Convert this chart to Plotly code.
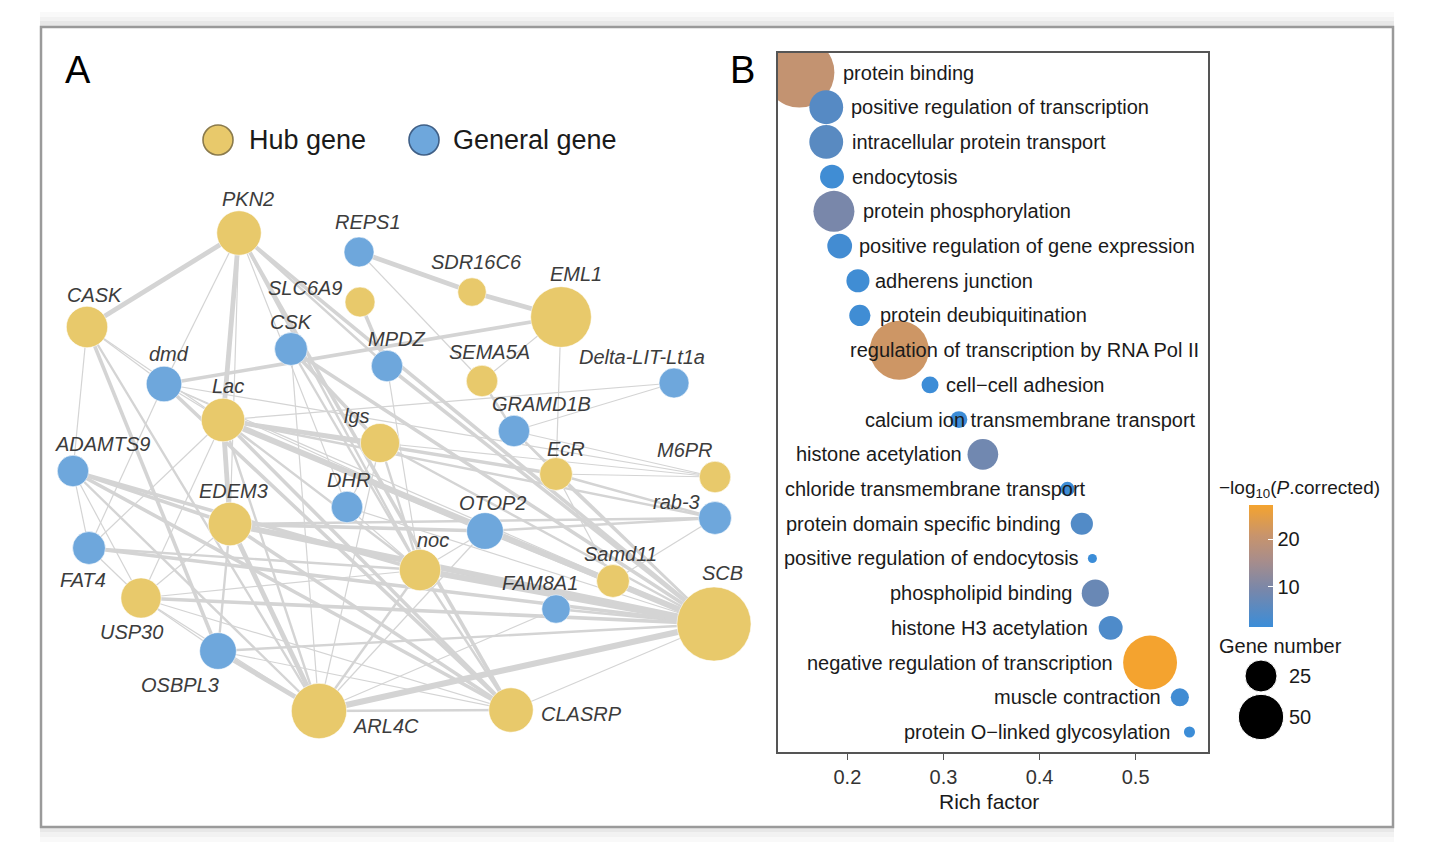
import plotly.graph_objects as go
from collections import defaultdict

W, H = 1432, 850
FONT = "Liberation Sans, Arial, sans-serif"

# ---------------- Panel A : co-expression network ----------------
node_names = ["PKN2", "REPS1", "SLC6A9", "SDR16C6", "EML1", "CASK", "CSK", "MPDZ", "dmd",
              "SEMA5A", "Delta-LIT-Lt1a", "Lac", "GRAMD1B", "lgs", "EcR", "M6PR", "ADAMTS9",
              "EDEM3", "DHR", "OTOP2", "rab-3", "FAT4", "noc", "Samd11", "USP30", "FAM8A1",
              "SCB", "OSBPL3", "ARL4C", "CLASRP"]
node_type = ["hub", "general", "hub", "hub", "hub", "hub", "general", "general", "general",
             "hub", "general", "hub", "general", "hub", "hub", "hub", "general",
             "hub", "general", "general", "general", "general", "hub", "hub", "hub", "general",
             "hub", "general", "hub", "hub"]
# network layout coordinates
node_x = [239, 359, 360, 472, 561, 87, 291, 387, 164, 482, 674, 223, 514, 380, 556, 715, 73,
          230, 347, 485, 715, 89, 420, 613, 141, 556, 714, 218, 319, 511]
node_y = [233, 252, 302, 292, 317, 327, 349, 366, 384, 381, 383, 420, 431, 443, 474, 477, 471,
          524, 507, 531, 518, 548, 570, 581, 598, 609, 624, 651, 711, 710]
node_degree = [22, 10, 10, 9, 41, 19, 12, 11, 14, 11, 10, 21, 11, 17, 12, 11, 11,
               21, 11, 15, 12, 12, 19, 12, 18, 9, 61, 15, 34, 22]

edges = [
    ("PKN2", "CASK", 4), ("PKN2", "Lac", 4), ("PKN2", "dmd", 1), ("PKN2", "SCB", 3),
    ("PKN2", "CLASRP", 3), ("PKN2", "noc", 2), ("PKN2", "EDEM3", 1), ("PKN2", "DHR", 1),
    ("PKN2", "MPDZ", 2),
    ("CASK", "dmd", 1), ("CASK", "Lac", 1), ("CASK", "ADAMTS9", 1), ("CASK", "OSBPL3", 3),
    ("CASK", "ARL4C", 2),
    ("dmd", "EML1", 3), ("dmd", "Lac", 1), ("dmd", "FAT4", 1), ("dmd", "CLASRP", 3),
    ("dmd", "SCB", 1), ("dmd", "OTOP2", 1), ("dmd", "M6PR", 1),
    ("CSK", "lgs", 3), ("CSK", "SCB", 3), ("CSK", "ARL4C", 1), ("CSK", "noc", 2),
    ("REPS1", "SDR16C6", 4), ("SDR16C6", "EML1", 4), ("REPS1", "SEMA5A", 1),
    ("SLC6A9", "MPDZ", 3),
    ("EML1", "SEMA5A", 1), ("EML1", "EcR", 1), ("MPDZ", "SCB", 3), ("MPDZ", "noc", 1),
    ("SEMA5A", "GRAMD1B", 2), ("Delta-LIT-Lt1a", "Lac", 1), ("Delta-LIT-Lt1a", "GRAMD1B", 1),
    ("GRAMD1B", "M6PR", 1), ("GRAMD1B", "SCB", 2), ("GRAMD1B", "EcR", 1),
    ("Lac", "lgs", 3), ("Lac", "EcR", 3), ("Lac", "SCB", 5), ("Lac", "OTOP2", 3),
    ("Lac", "EDEM3", 4), ("Lac", "ARL4C", 2), ("Lac", "CLASRP", 3), ("Lac", "rab-3", 2),
    ("Lac", "noc", 2), ("Lac", "FAT4", 1), ("Lac", "USP30", 1),
    ("lgs", "SCB", 2), ("lgs", "ARL4C", 1), ("lgs", "DHR", 1), ("lgs", "noc", 2),
    ("lgs", "M6PR", 1),
    ("EcR", "rab-3", 2), ("EcR", "SCB", 2), ("EcR", "M6PR", 1), ("EcR", "Samd11", 1),
    ("ADAMTS9", "EDEM3", 3), ("ADAMTS9", "noc", 3), ("ADAMTS9", "CLASRP", 3),
    ("ADAMTS9", "FAT4", 1), ("ADAMTS9", "ARL4C", 2), ("ADAMTS9", "USP30", 1),
    ("EDEM3", "SCB", 5), ("EDEM3", "OTOP2", 3), ("EDEM3", "ARL4C", 4), ("EDEM3", "CLASRP", 3),
    ("EDEM3", "OSBPL3", 2), ("EDEM3", "rab-3", 2), ("EDEM3", "USP30", 1),
    ("DHR", "SCB", 1), ("DHR", "noc", 1),
    ("OTOP2", "SCB", 3), ("OTOP2", "noc", 1), ("OTOP2", "rab-3", 2), ("OTOP2", "ARL4C", 1),
    ("rab-3", "Samd11", 1),
    ("FAT4", "SCB", 3), ("FAT4", "USP30", 1), ("FAT4", "noc", 2),
    ("noc", "SCB", 5), ("noc", "ARL4C", 2), ("noc", "CLASRP", 2), ("noc", "USP30", 1),
    ("Samd11", "SCB", 3), ("USP30", "SCB", 3), ("USP30", "ARL4C", 1), ("USP30", "OSBPL3", 1),
    ("USP30", "CLASRP", 1),
    ("FAM8A1", "SCB", 2), ("FAM8A1", "ARL4C", 1),
    ("OSBPL3", "ARL4C", 4), ("OSBPL3", "SCB", 2), ("OSBPL3", "CLASRP", 1),
    ("ARL4C", "SCB", 5), ("ARL4C", "CLASRP", 2), ("CLASRP", "SCB", 1),
]

# ---------------- Panel B : enrichment bubble chart ----------------
terms = ["protein binding", "positive regulation of transcription", "intracellular protein transport",
         "endocytosis", "protein phosphorylation", "positive regulation of gene expression",
         "adherens junction", "protein deubiquitination", "regulation of transcription by RNA Pol II",
         "cell\u2212cell adhesion", "calcium ion transmembrane transport", "histone acetylation",
         "chloride transmembrane transport", "protein domain specific binding",
         "positive regulation of endocytosis", "phospholipid binding", "histone H3 acetylation",
         "negative regulation of transcription", "muscle contraction",
         "protein O\u2212linked glycosylation"]
rich_factor = [0.150, 0.178, 0.178, 0.184, 0.186, 0.192, 0.211, 0.213, 0.254, 0.286,
               0.316, 0.341, 0.429, 0.444, 0.455, 0.458, 0.474, 0.515, 0.546, 0.556]
gene_number = [120, 28, 28, 14, 41, 15, 13, 11, 85, 7, 7, 23, 5, 12, 2, 18, 14, 71, 8, 3]
neg_log10_p = [20.0, 5.0, 5.5, 2.2, 9.5, 2.6, 2.2, 2.2, 21.5, 1.8, 1.8, 8.5, 2.0, 4.5,
               1.6, 7.5, 4.0, 27.2, 2.4, 1.7]
size_legend_values = [25, 50]
colorbar_ticks = [10, 20]

# label placement (style): anchor side and pixel shift from bubble centre
label_place = [("left", 43), ("left", 24), ("left", 24.5), ("left", 19), ("left", 28.5),
               ("left", 18.5), ("left", 16.5), ("left", 19.5), ("left", -50.5), ("left", 14.5),
               ("left", -95), ("right", -20), ("right", 19.5), ("right", -20), ("right", -12.5),
               ("right", -22), ("right", -22), ("right", -36.5), ("right", -18), ("right", -18)]
# node label offsets (style), in pixels relative to node centre
node_label_offset = {
    "PKN2": (9, -34), "REPS1": (9, -30), "SLC6A9": (-55, -14), "SDR16C6": (4, -30),
    "EML1": (15, -43), "CASK": (8, -32), "CSK": (0, -27), "MPDZ": (9, -27), "dmd": (5, -30),
    "SEMA5A": (7, -29), "Delta-LIT-Lt1a": (-32, -26), "Lac": (5, -34), "GRAMD1B": (27, -27),
    "lgs": (-23, -27), "EcR": (10, -25), "M6PR": (-30, -27), "ADAMTS9": (29, -27),
    "EDEM3": (3, -33), "DHR": (1, -27), "OTOP2": (7, -28), "rab-3": (-39, -16),
    "FAT4": (-6, 32), "noc": (13, -30), "Samd11": (7, -27), "USP30": (-10, 34),
    "FAM8A1": (-16, -26), "SCB": (8, -51), "OSBPL3": (-38, 34), "ARL4C": (67, 15),
    "CLASRP": (70, 4),
}

HUB = "#E8C96B"
GEN = "#6EA7DC"
EDGE = "#d4d4d4"
NODE_SIZEREF = 10 / 450.0
BUBBLE_SIZEREF = 25 / 512.0


def px(x):
    return x / W


def py(y):
    return 1 - y / H


fig = go.Figure()

# edges grouped by weight
idx = {n: i for i, n in enumerate(node_names)}
groups = defaultdict(lambda: ([], []))
for a, b, w in edges:
    xs, ys = groups[w]
    xs += [node_x[idx[a]], node_x[idx[b]], None]
    ys += [node_y[idx[a]], node_y[idx[b]], None]
for w in sorted(groups):
    xs, ys = groups[w]
    fig.add_trace(go.Scatter(x=xs, y=ys, mode="lines", xaxis="x", yaxis="y",
                             line=dict(color=EDGE, width=1.2 * w), hoverinfo="skip",
                             showlegend=False, cliponaxis=False))

# nodes
for typ, col in [("hub", HUB), ("general", GEN)]:
    sel = [i for i, t in enumerate(node_type) if t == typ]
    fig.add_trace(go.Scatter(
        x=[node_x[i] for i in sel], y=[node_y[i] for i in sel], mode="markers",
        xaxis="x", yaxis="y", showlegend=False, cliponaxis=False,
        text=[node_names[i] for i in sel], hoverinfo="text",
        marker=dict(size=[node_degree[i] for i in sel], sizemode="area", sizeref=NODE_SIZEREF,
                    color=col, opacity=1, line=dict(width=0.8, color="rgba(255,255,255,0.7)"))))

# legend for panel A
fig.add_trace(go.Scatter(x=[218, 424], y=[140, 140], mode="markers", xaxis="x", yaxis="y",
                         showlegend=False, hoverinfo="skip", cliponaxis=False,
                         marker=dict(size=30, color=[HUB, GEN], opacity=1,
                                     line=dict(width=1.6, color=["#8a7a4c", "#3f5f86"]))))

annotations = []
for name in node_names:
    dx, dy = node_label_offset[name]
    i = idx[name]
    annotations.append(dict(x=node_x[i] + dx, y=node_y[i] + dy, xref="x", yref="y",
                            text="<i>%s</i>" % name, showarrow=False,
                            font=dict(family=FONT, size=20, color="#3c3c3c"),
                            xanchor="center", yanchor="middle"))
annotations.append(dict(x=247, y=140, xref="x", yref="y", text="Hub gene", showarrow=False,
                        xanchor="left", yanchor="middle",
                        font=dict(family=FONT, size=27, color="#1a1a1a")))
annotations.append(dict(x=451, y=140, xref="x", yref="y", text="General gene", showarrow=False,
                        xanchor="left", yanchor="middle",
                        font=dict(family=FONT, size=27, color="#1a1a1a")))

# ---------------- Panel B traces ----------------
yidx = list(range(len(terms)))
colorscale = [[0.0, "#3b8dd8"], [0.3, "#7787ab"], [0.55, "#a98d8a"],
              [0.75, "#c8946c"], [1.0, "#f4a32f"]]
fig.add_trace(go.Scatter(
    x=rich_factor, y=yidx, mode="markers", xaxis="x2", yaxis="y2", showlegend=False,
    text=terms, hoverinfo="text+x",
    marker=dict(size=gene_number, sizemode="area", sizeref=BUBBLE_SIZEREF,
                color=neg_log10_p, colorscale=colorscale, line=dict(width=0), opacity=1,
                colorbar=dict(x=px(1249), xanchor="left", xpad=0,
                              y=py(566), yanchor="middle", ypad=0,
                              lenmode="pixels", len=122, thicknessmode="pixels", thickness=24,
                              outlinewidth=0, tickvals=colorbar_ticks, ticks="inside",
                              ticklen=5, tickcolor="white", tickwidth=1,
                              tickfont=dict(family=FONT, size=20, color="#1a1a1a")))))

for i, t in enumerate(terms):
    side, shift = label_place[i]
    annotations.append(dict(x=rich_factor[i], y=i, xref="x2", yref="y2", text=t,
                            showarrow=False, xanchor=side, yanchor="middle", xshift=shift,
                            borderpad=0,
                            font=dict(family=FONT, size=20, color="#1a1a1a")))

# size legend
fig.add_trace(go.Scatter(x=[1261, 1261], y=[676, 717], mode="markers", xaxis="x3", yaxis="y3",
                         showlegend=False, hoverinfo="skip", cliponaxis=False,
                         marker=dict(size=size_legend_values, sizemode="area",
                                     sizeref=BUBBLE_SIZEREF, color="black", opacity=1)))
for v, yy in zip(size_legend_values, [676, 717]):
    annotations.append(dict(x=1287, y=yy, xref="x3", yref="y3", text=str(v), showarrow=False,
                            xanchor="left", yanchor="middle",
                            font=dict(family=FONT, size=20, color="#1a1a1a")))

annotations += [
    dict(x=px(1217), y=py(489), xref="paper", yref="paper",
         text="\u2212log<sub>10</sub>(<i>P</i>.corrected)", showarrow=False,
         xanchor="left", yanchor="middle", font=dict(family=FONT, size=19, color="#1a1a1a")),
    dict(x=px(1217), y=py(646), xref="paper", yref="paper", text="Gene number",
         showarrow=False, xanchor="left", yanchor="middle",
         font=dict(family=FONT, size=20, color="#1a1a1a")),
    dict(x=px(989), y=py(801), xref="paper", yref="paper", text="Rich factor",
         showarrow=False, xanchor="center", yanchor="middle",
         font=dict(family=FONT, size=21, color="#1a1a1a")),
    dict(x=px(78), y=py(70), xref="paper", yref="paper", text="A", showarrow=False,
         xanchor="center", yanchor="middle", font=dict(family=FONT, size=38, color="black")),
    dict(x=px(743), y=py(70), xref="paper", yref="paper", text="B", showarrow=False,
         xanchor="center", yanchor="middle", font=dict(family=FONT, size=38, color="black")),
]

# frame with soft shadow
shapes = []
for (y0, y1, a) in [(12, 17, 0.025), (17, 21, 0.05), (21, 27, 0.09),
                    (827, 832, 0.09), (832, 837, 0.05), (837, 842, 0.025)]:
    shapes.append(dict(type="rect", xref="paper", yref="paper", x0=px(40), x1=px(1394),
                       y0=py(y0), y1=py(y1), fillcolor="rgba(0,0,0,%g)" % a,
                       line=dict(width=0), layer="below"))
shapes.append(dict(type="rect", xref="paper", yref="paper", x0=px(41), x1=px(1393),
                   y0=py(27), y1=py(827), line=dict(color="#9a9a9a", width=2.5),
                   fillcolor="rgba(0,0,0,0)", layer="above"))

axis_off = dict(visible=False, showgrid=False, zeroline=False, fixedrange=True)
fig.update_layout(
    width=W, height=H, margin=dict(l=0, r=0, t=0, b=0), autosize=False,
    paper_bgcolor="white", plot_bgcolor="rgba(0,0,0,0)", showlegend=False,
    font=dict(family=FONT),
    xaxis=dict(domain=[0, 760 / W], range=[0, 760], anchor="y", **axis_off),
    yaxis=dict(domain=[0, 1], range=[H, 0], anchor="x", **axis_off),
    xaxis2=dict(domain=[px(778), px(1208.3)], range=[0.1278, 0.5756], anchor="y2",
                showline=True, mirror=True, linecolor="#555", linewidth=1.5,
                showgrid=False, zeroline=False, tickvals=[0.2, 0.3, 0.4, 0.5],
                ticktext=["0.2", "0.3", "0.4", "0.5"],
                ticks="outside", ticklen=6, tickcolor="#555", tickwidth=1.2,
                tickfont=dict(family=FONT, size=20, color="#333")),
    yaxis2=dict(domain=[py(752.3), py(52.7)], range=[19.585, -0.571], anchor="x2",
                showline=True, mirror=True, linecolor="#555", linewidth=1.5,
                showgrid=False, zeroline=False, showticklabels=False, ticks=""),
    xaxis3=dict(domain=[px(1210), px(1400)], range=[1210, 1400], anchor="y3", **axis_off),
    yaxis3=dict(domain=[py(770), py(630)], range=[770, 630], anchor="x3", **axis_off),
    annotations=annotations, shapes=shapes,
)

fig.write_html("out.html", config={"displayModeBar": False},
               post_script="document.body.style.margin='0';document.body.style.overflow='hidden';")
